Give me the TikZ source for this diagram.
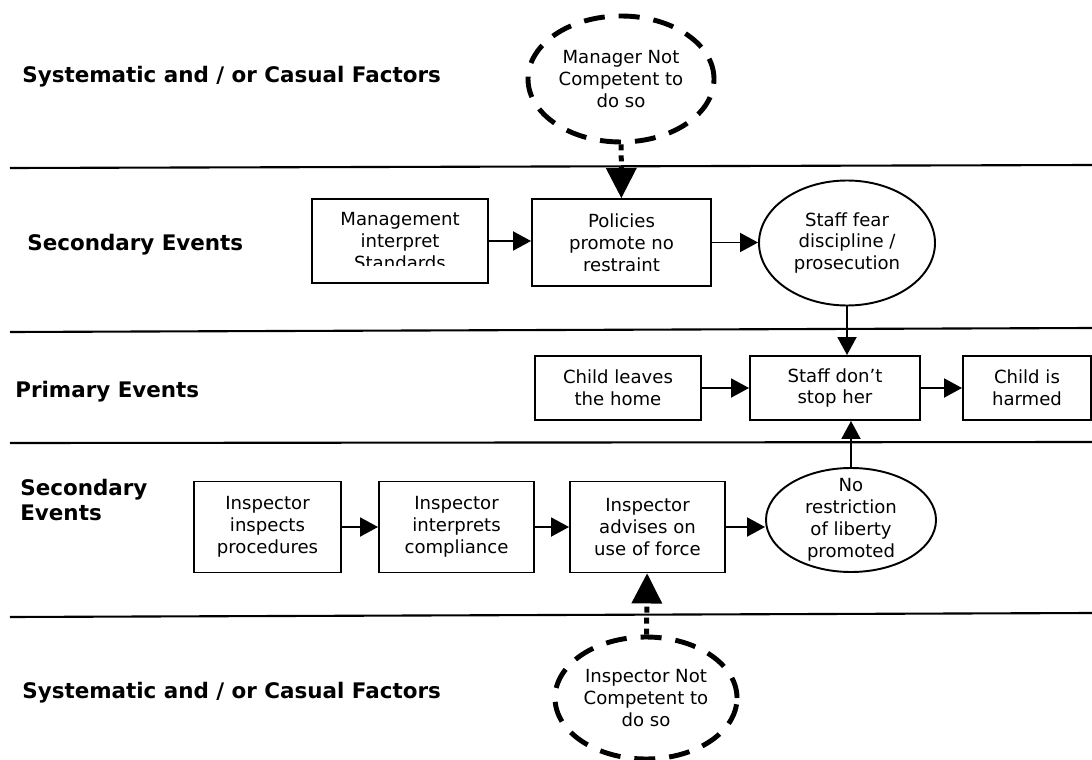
\documentclass[tikz,border=0pt]{standalone}
\usepackage{fontspec}
\setmainfont{DejaVu Sans}
\usetikzlibrary{shapes.geometric,arrows.meta,calc}

\newcommand{\pxu}{0.02cm}

\tikzset{
  evbox/.style 2 args={draw, line width=1.1pt, align=center, inner sep=0pt,
    minimum width=#1*\pxu, minimum height=#2*\pxu},
  evoval/.style 2 args={ellipse, draw, line width=1.1pt, inner sep=0pt,
    minimum width=#1*\pxu, minimum height=#2*\pxu},
  factor/.style 2 args={ellipse, draw, line width=2.8pt, dash pattern=on 0.42cm off 0.28cm,
    inner sep=0pt, minimum width=#1*\pxu, minimum height=#2*\pxu},
  txt/.style={align=center, inner sep=0pt},
  rowlabel/.style={anchor=west, align=left, inner sep=0pt,
    font=\fontsize{12.2}{13.8}\selectfont\bfseries},
  flow/.style={line width=1.1pt, -{Triangle[length=0.36cm, width=0.38cm]}},
  cause/.style={line width=0.1cm, dash pattern=on 0.12cm off 0.1cm,
    -{Triangle[length=0.6cm, width=0.62cm, line width=0pt]}},
  divider/.style={line width=1.2pt}
}

\begin{document}
\begin{tikzpicture}[x=\pxu, y=-\pxu, font=\fontsize{10.3}{12.5}\selectfont]

\useasboundingbox (0,0) rectangle (1092,760);
\clip (0,0) rectangle (1092,760);

% lanes
\foreach \l/\r in {168/165, 332/328, 443/442, 617/613}{%
   \draw[divider] (10,\l) -- (1092,\r);
}

\node[rowlabel] (lab1) at (22,77)  {Systematic and / or Casual Factors};
\node[rowlabel] (lab2) at (27,245) {Secondary Events};
\node[rowlabel] (lab3) at (15,392) {Primary Events};
\node[rowlabel] (lab4) at (20,500) {Secondary\\Events};
\node[rowlabel] (lab5) at (22,693) {Systematic and / or Casual Factors};

% management side
\node[factor={186}{126}] (mgrnot) at (621,79) {};
\node[txt] (mgrnot-t) at (mgrnot) {Manager Not\\Competent to\\do so};

\node[evbox={176}{84}] (mgmt) at (400,241) {Management\\interpret\\Standards};
\fill[white] ($(mgmt.south west)+(2,-2)$) rectangle ($(mgmt.south east)+(-2,-18)$);
\node[evbox={179}{87}] (policy) at (621.5,242.5) {Policies\\promote no\\restraint};
\node[evoval={176}{125}] (fear) at (847,243) {};
\node[txt] (fear-t) at (fear) {Staff fear\\discipline /\\prosecution};

% primary events
\node[evbox={166}{64}] (leaves) at (618,388) {Child leaves\\the home};
\node[evbox={170}{64}] (dont) at (835,388) {Staff don’t\\stop her};
\node[evbox={128}{64}] (harmed) at (1027,388) {Child is\\harmed};

% inspector side
\node[evbox={147}{91}] (insp) at (267.5,527) {Inspector\\inspects\\procedures};
\node[evbox={155}{91}] (interp) at (456.5,527) {Inspector\\interprets\\compliance};
\node[evbox={155}{91}] (advise) at (647.5,527) {Inspector\\advises on\\use of force};
\node[evoval={170}{104}] (restr) at (851,520) {};
\node[txt] (restr-t) at (restr) {No\\restriction\\of liberty\\promoted};

\node[factor={182}{122}] (inspnot) at (646,698) {};
\node[txt] (inspnot-t) at (inspnot) {Inspector Not\\Competent to\\do so};

% connectors
\draw[cause] (mgrnot) -- (policy);
\draw[flow] (mgmt.east) -- (mgmt.east -| policy.west);
\draw[flow] (policy.east) -- (policy.east -| fear.west);
\draw[flow] (fear.south) -- (fear.south |- dont.north);

\draw[flow] (leaves) -- (dont);
\draw[flow] (dont) -- (harmed);

\draw[flow] (insp) -- (interp);
\draw[flow] (interp) -- (advise);
\draw[flow] (advise.east) -- (advise.east -| restr.west);
\draw[flow] (restr.north) -- (restr.north |- dont.south);
\draw[cause] (inspnot) -- (advise);

\end{tikzpicture}
\end{document}
